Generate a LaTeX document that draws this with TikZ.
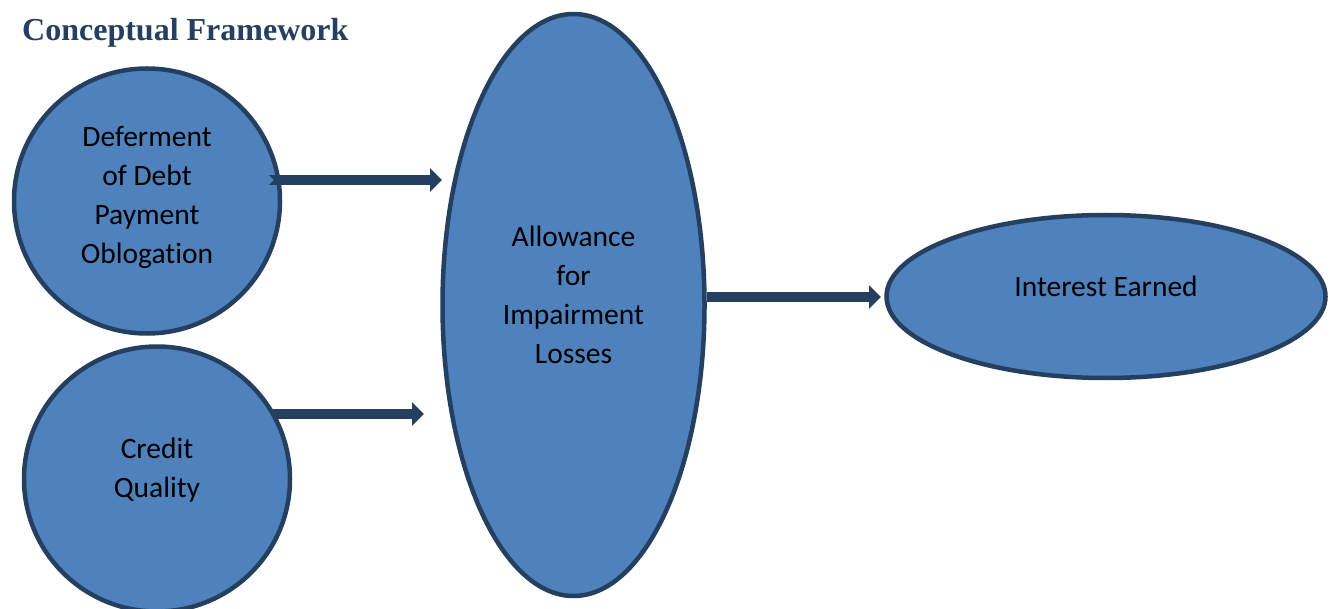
\documentclass[tikz,border=0pt]{standalone}
\usepackage{fontspec}
\setmainfont{Carlito}[Ligatures=NoCommon]
\newfontfamily\titlefont{Liberation Serif}
\usetikzlibrary{shapes.geometric,arrows.meta}
\definecolor{fillblue}{HTML}{4F81BD}
\definecolor{navy}{HTML}{243F60}
\tikzset{
  blob/.style={ellipse,draw=navy,fill=fillblue,line width=4.5pt,inner sep=0pt},
  blobtext/.style={inner sep=0pt,font=\fontsize{29.5}{39}\selectfont,align=center,text=black},
  blockarrow/.style={draw=navy,line width=10pt,-{Triangle[width=23pt,length=12pt]}},
}
\begin{document}
\begin{tikzpicture}[x=1pt,y=-1pt]
\useasboundingbox (0,0) rectangle (1332,609);
\node[anchor=base west,inner sep=0pt,text=navy,font=\titlefont\bfseries\fontsize{32}{36}\selectfont] (title) at (22,41) {Conceptual Framework};
\node[blob,minimum width=266pt,minimum height=265pt] (def) at (147,201) {};
\node[blob,minimum width=266pt,minimum height=265pt] (cq) at (157,479) {};
\node[blob,minimum width=262pt,minimum height=582pt] (allow) at (573.5,305) {};
\node[blob,minimum width=439pt,minimum height=163pt] (int) at (1106,296.5) {};
\node[blobtext] (deft) at ([yshift=4pt]def.center) {Deferment\\of Debt\\Payment\\Oblogation};
\node[blobtext] (cqt) at ([yshift=9pt]cq.center) {Credit\\Quality};
\node[blobtext] (allowt) at ([yshift=10pt]allow.center) {Allowance\\for\\Impairment\\Losses};
\node[blobtext] (intt) at ([yshift=10pt]int.center) {Interest Earned};
\coordinate (a1s) at (268,180);
\coordinate (a1e) at (442,180);
\coordinate (a2s) at (273,414);
\coordinate (a2e) at (424,414);
\coordinate (a3s) at (707,297);
\coordinate (a3e) at (881,297);
\draw[blockarrow] (a1s) -- (a1e);
\fill[fillblue] (268,174.5) -- (273.5,180) -- (268,185.5) -- cycle;
\draw[blockarrow] (a2s) -- (a2e);
\draw[blockarrow] (a3s) -- (a3e);
\end{tikzpicture}
\end{document}
